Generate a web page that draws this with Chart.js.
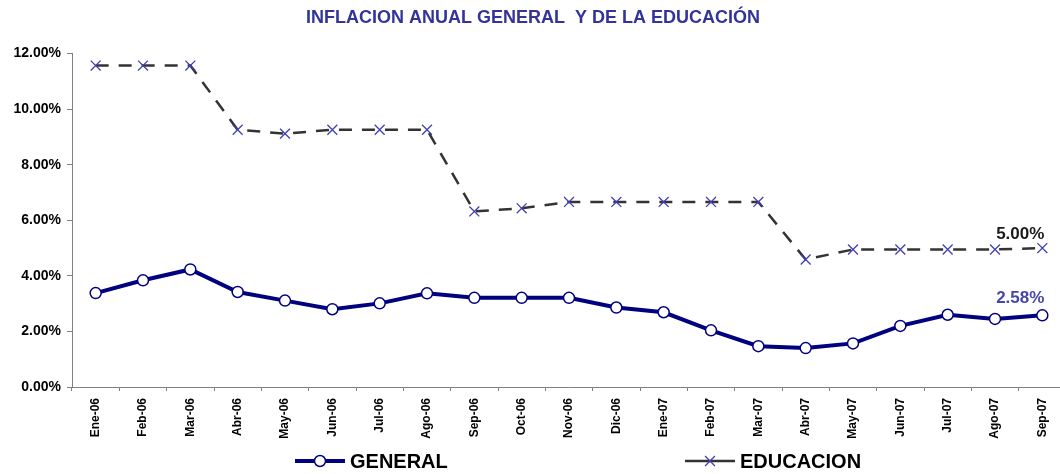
<!DOCTYPE html>
<html>
<head>
<meta charset="utf-8">
<script src="https://cdn.jsdelivr.net/npm/chart.js@4/dist/chart.umd.min.js"></script>
<style>
  html, body { margin: 0; padding: 0; background: #fff; }
  /* the plot runs a few pixels past the right edge in the original */
  #wrap { width: 1060px; height: 474px; overflow: hidden; }
</style>
</head>
<body>
<div id="wrap"><canvas id="chart" width="1068" height="474"></canvas></div>
<script>
// --- Data ---
const months = ['Ene-06', 'Feb-06', 'Mar-06', 'Abr-06', 'May-06', 'Jun-06', 'Jul-06', 'Ago-06',
    'Sep-06', 'Oct-06', 'Nov-06', 'Dic-06', 'Ene-07', 'Feb-07', 'Mar-07', 'Abr-07', 'May-07',
    'Jun-07', 'Jul-07', 'Ago-07', 'Sep-07'];

const general = [3.38, 3.84, 4.23, 3.42, 3.11, 2.80, 3.01, 3.37, 3.21, 3.21, 3.21, 2.86,
    2.69, 2.04, 1.47, 1.40, 1.57, 2.20, 2.60, 2.45, 2.58];

const educacion = [11.57, 11.57, 11.57, 9.26, 9.12, 9.26, 9.26, 9.26, 6.32, 6.43, 6.66, 6.66,
    6.66, 6.66, 6.66, 4.59, 4.95, 4.95, 4.95, 4.95, 5.00];

const yTicks = [0, 2, 4, 6, 8, 10, 12];

const FONT = "Arial, 'Liberation Sans', sans-serif";
const navy = '#000080';
const crossBlue = '#4040b0';
const dashGray = '#333333';

// last-value labels on the right end of each series
const endLabels = {
    id: 'endLabels',
    afterDatasetsDraw(chart) {
        const ctx = chart.ctx;
        const colors = ['#4646a8', '#1a1a1a'];
        const offsets = [17, 14];
        chart.data.datasets.forEach((ds, i) => {
            const meta = chart.getDatasetMeta(i);
            const pt = meta.data[meta.data.length - 1];
            const v = ds.data[ds.data.length - 1];
            ctx.save();
            ctx.font = `bold 17px ${FONT}`;
            ctx.fillStyle = colors[i];
            ctx.textAlign = 'right';
            ctx.textBaseline = 'middle';
            ctx.fillText(v.toFixed(2) + '%', pt.x + 2, pt.y - offsets[i]);
            ctx.restore();
        });
    }
};

// legend with line + marker samples, like the spreadsheet one
const lineLegend = {
    id: 'lineLegend',
    afterDraw(chart) {
        const ctx = chart.ctx;
        const y = 461;
        const starts = [295, 685];
        chart.data.datasets.forEach((ds, i) => {
            const x0 = starts[i];
            const cx = x0 + 25;
            ctx.save();
            ctx.strokeStyle = ds.borderColor;
            ctx.lineWidth = ds.borderWidth;
            ctx.beginPath();
            ctx.moveTo(x0, y);
            ctx.lineTo(x0 + 50, y);
            ctx.stroke();
            ctx.restore();

            ctx.save();
            ctx.fillStyle = '#fff';
            ctx.strokeStyle = ds.pointBorderColor;
            ctx.lineWidth = ds.pointBorderWidth;
            ctx.beginPath();
            if (ds.pointStyle === 'circle') {
                ctx.arc(cx, y, ds.pointRadius, 0, Math.PI * 2);
                ctx.fill();
                ctx.stroke();
            } else {
                const d = ds.pointRadius * Math.SQRT1_2;
                ctx.moveTo(cx - d, y - d); ctx.lineTo(cx + d, y + d);
                ctx.moveTo(cx - d, y + d); ctx.lineTo(cx + d, y - d);
                ctx.stroke();
            }
            ctx.restore();

            ctx.save();
            ctx.font = `bold 20px ${FONT}`;
            ctx.fillStyle = '#000';
            ctx.textBaseline = 'middle';
            ctx.fillText(ds.label, x0 + 55, y + 1);
            ctx.restore();
        });
    }
};

new Chart(document.getElementById('chart'), {
    type: 'line',
    data: {
        labels: months,
        datasets: [
            {
                label: 'GENERAL',
                data: general,
                borderColor: navy,
                borderWidth: 4,
                pointStyle: 'circle',
                pointRadius: 5.5,
                pointBackgroundColor: '#fff',
                pointBorderColor: navy,
                pointBorderWidth: 1.5,
                tension: 0,
                order: 1
            },
            {
                label: 'EDUCACION',
                data: educacion,
                borderColor: dashGray,
                borderWidth: 2.5,
                borderDash: [13, 10],
                pointStyle: 'crossRot',
                pointRadius: 7,
                pointBorderColor: crossBlue,
                pointBorderWidth: 1.3,
                tension: 0,
                order: 2
            }
        ]
    },
    options: {
        responsive: false,
        animation: false,
        layout: { autoPadding: false, padding: { left: 0, right: 2, top: 0, bottom: 30 } },
        scales: {
            x: {
                offset: true,
                grid: { drawOnChartArea: false, drawTicks: true, tickLength: 4, color: '#808080', offset: true },
                border: { color: '#808080', width: 1 },
                ticks: {
                    minRotation: 90, maxRotation: 90, autoSkip: false, padding: 7,
                    color: '#000',
                    font: { family: FONT, size: 12, weight: 'bold' }
                },
                afterFit(scale) { scale.height = 57; }
            },
            y: {
                min: 0,
                max: 12,
                afterBuildTicks(scale) { scale.ticks = yTicks.map(v => ({ value: v })); },
                grid: { drawOnChartArea: false, drawTicks: true, tickLength: 5, color: '#808080' },
                border: { color: '#808080', width: 1 },
                ticks: {
                    padding: 6,
                    color: '#000',
                    font: { family: FONT, size: 14, weight: 'bold' },
                    callback: v => v.toFixed(2) + '%'
                },
                afterFit(scale) { scale.width = 72; }
            }
        },
        plugins: {
            legend: { display: false },
            tooltip: { enabled: false },
            title: {
                display: true,
                text: 'INFLACION ANUAL GENERAL  Y DE LA EDUCACIÓN',
                color: '#333399',
                font: { family: FONT, size: 18, weight: 'bold' },
                padding: { top: 7, bottom: 25 }
            }
        }
    },
    plugins: [endLabels, lineLegend]
});
</script>
</body>
</html>
